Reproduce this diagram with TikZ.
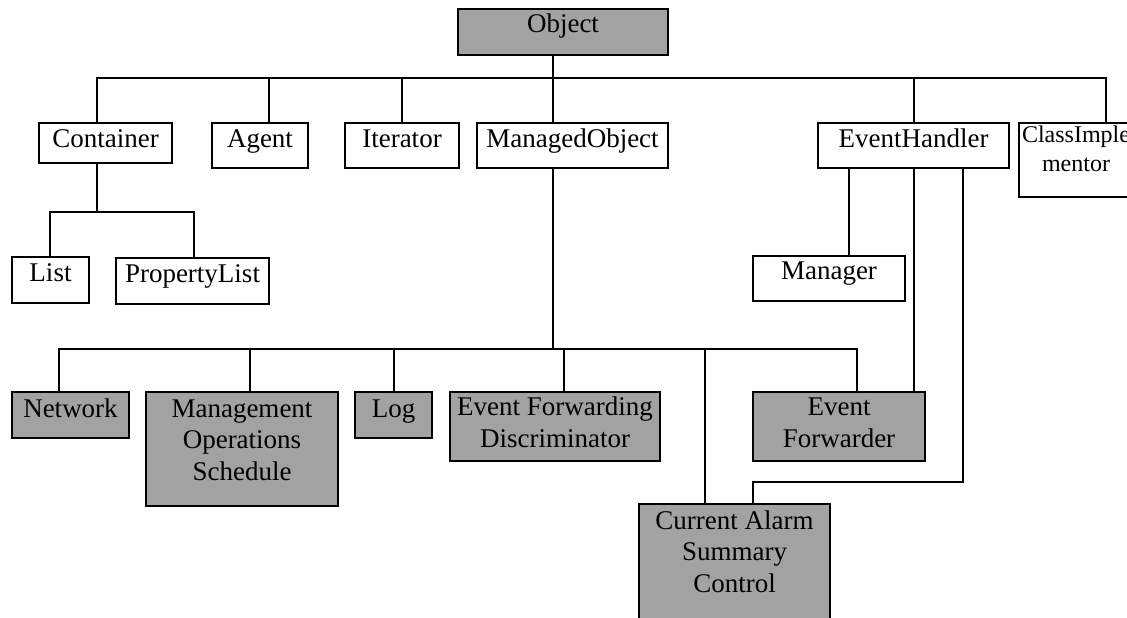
\documentclass[tikz,border=0pt]{standalone}
\usepackage{fontspec}
\setmainfont{Liberation Serif}
\usetikzlibrary{fit}
\definecolor{shade}{RGB}{162,162,162}
\tikzset{
  cls/.style={draw=black, line width=1.9bp, inner sep=0pt, fill=white},
  core/.style={cls, fill=shade},
  % anchor=base sits on the baseline of the last line
  lbl/.style={anchor=base, align=center, inner sep=0pt,
              font=\fontsize{27bp}{31.5bp}\selectfont},
  lbltight/.style={lbl, font=\fontsize{24bp}{29bp}\selectfont},
  link/.style={draw=black, line width=1.9bp, line cap=rect}
}
\begin{document}
\begin{tikzpicture}[x=1bp, y=-1bp]
\useasboundingbox (0,0) rectangle (1127,618);

% class boxes
\node[core, fit={(458,9) (668,55)}]    (object) {};
\node[cls,  fit={(39,123) (172,163)}]  (container) {};
\node[cls,  fit={(212,123) (308,168)}] (agent) {};
\node[cls,  fit={(345,123) (459,168)}] (iterator) {};
\node[cls,  fit={(477,123) (668,168)}] (managed) {};
\node[cls,  fit={(818,123) (1009,168)}] (handler) {};
\node[cls,  fit={(1019,123) (1139,197)}] (classimpl) {};
\node[cls,  fit={(12,257) (89,303)}]   (list) {};
\node[cls,  fit={(116,258) (269,304)}] (plist) {};
\node[cls,  fit={(753,256) (905,301)}] (manager) {};
\node[core, fit={(12,392) (129,438)}]  (network) {};
\node[core, fit={(146,392) (338,506)}] (mos) {};
\node[core, fit={(355,392) (432,438)}] (log) {};
\node[core, fit={(450,392) (660,461)}] (efd) {};
\node[core, fit={(753,392) (925,461)}] (evfwd) {};
\node[core, fit={(639,504) (830,640)}] (casc) {};

% labels
\node[lbl] at (object.center |- 0,33)     {Object};
\node[lbl] at (container.center |- 0,148) {Container};
\node[lbl] at (agent.center |- 0,148)     {Agent};
\node[lbl] at (iterator.center |- 0,148)  {Iterator};
\node[lbl] at (managed.center |- 0,148)   {ManagedObject};
\node[lbl] at (handler.center |- 0,148)   {EventHandler};
\node[lbltight] at (1076,172)             {ClassImple\\mentor};
\node[lbl] at (list.center |- 0,282)      {List};
\node[lbl] at (plist.center |- 0,283)     {PropertyList};
\node[lbl] at (manager.center |- 0,280)   {Manager};
\node[lbl] at (network.center |- 0,417)   {Network};
\node[lbl] at (mos.center |- 0,480)       {Management\\Operations\\Schedule};
\node[lbl] at (log.center |- 0,417)       {Log};
\node[lbl] at (efd.center |- 0,447)       {Event Forwarding\\Discriminator};
\node[lbl] at (evfwd.center |- 0,447)     {Event\\Forwarder};
\node[lbl] at (casc.center |- 0,592)      {Current Alarm\\Summary\\Control};

% junction points of the buses
\coordinate (topbus) at (553,78);
\coordinate (cbus)   at (97,212);
\coordinate (mbus)   at (553,349);
\coordinate (elbow)  at (753,482);

% Object and its direct subclasses
\draw[link] (object.south -| topbus) -- (managed.north -| topbus);
\draw[link] (container.north -| 97,0)  |- (topbus);
\draw[link] (agent.north -| 269,0)     |- (topbus);
\draw[link] (iterator.north -| 402,0)  |- (topbus);
\draw[link] (handler.north -| 914,0)   |- (topbus);
\draw[link] (classimpl.north -| 1106,0) |- (topbus);

% Container subclasses
\draw[link] (container.south -| cbus) -- (cbus);
\draw[link] (list.north -| 50,0)   |- (cbus);
\draw[link] (plist.north -| 194,0) |- (cbus);

% EventHandler subclasses
\draw[link] (handler.south -| 849,0) -- (manager.north -| 849,0);
\draw[link] (handler.south -| 914,0) -- (evfwd.north -| 914,0);
\draw[link] (handler.south -| 963,0) |- (elbow) -- (casc.north -| elbow);

% ManagedObject subclasses
\draw[link] (managed.south -| mbus) -- (mbus);
\draw[link] (network.north -| 59,0) |- (mbus);
\draw[link] (mos.north -| 250,0)    |- (mbus);
\draw[link] (log.north -| 394,0)    |- (mbus);
\draw[link] (efd.north -| 564,0)    |- (mbus);
\draw[link] (casc.north -| 705,0)   |- (mbus);
\draw[link] (evfwd.north -| 857,0)  |- (mbus);
\end{tikzpicture}
\end{document}
